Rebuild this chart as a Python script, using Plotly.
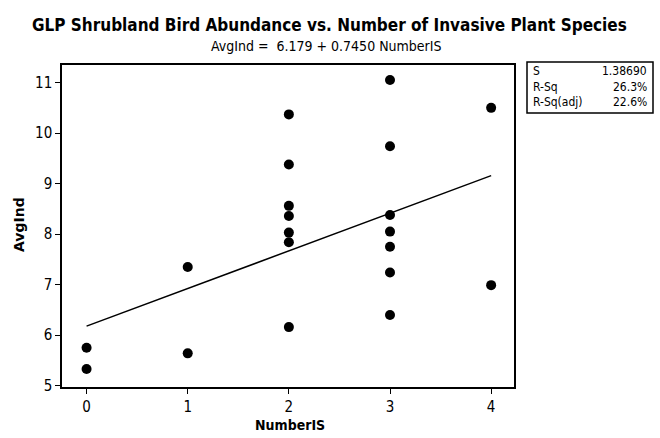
import plotly.graph_objects as go

number_is = [0, 0, 1, 1, 2, 2, 2, 2, 2, 2, 2, 3, 3, 3, 3, 3, 3, 3, 4, 4]
avg_ind = [5.75, 5.33, 7.35, 5.64, 10.37, 9.38, 8.56, 8.36, 8.03, 7.84, 6.16,
           11.05, 9.74, 8.38, 8.05, 7.75, 7.24, 6.40, 10.50, 6.99]
intercept = 6.179
slope = 0.7450
fit_x = [0, 4]
x_ticks = [0, 1, 2, 3, 4]
y_ticks = [5, 6, 7, 8, 9, 10, 11]
stat_names = ["S", "R-Sq", "R-Sq(adj)"]
stat_values = ["1.38690", "26.3%", "22.6%"]

FONT = "DejaVu Sans Condensed"
L, R, T, B = 62, 146, 65, 51
W, H = 660, 438

fig = go.Figure()
fig.add_trace(go.Scatter(
    x=fit_x, y=[intercept + slope * v for v in fit_x], mode="lines",
    line=dict(color="black", width=1.5), showlegend=False, hoverinfo="skip"))
fig.add_trace(go.Scatter(
    x=number_is, y=avg_ind, mode="markers",
    marker=dict(color="black", size=10, line=dict(width=0)), showlegend=False))

fig.update_layout(
    width=W, height=H,
    margin=dict(l=L, r=R, t=T, b=B, autoexpand=False),
    plot_bgcolor="white", paper_bgcolor="white",
    font=dict(family=FONT, color="black", size=14),
    xaxis=dict(range=[-0.243, 4.226], tickvals=x_ticks, ticks="outside", ticklen=5,
               tickcolor="black", showgrid=False, zeroline=False, automargin=False,
               showline=True, linecolor="black", linewidth=1.5, mirror=True,
               tickfont=dict(size=15)),
    yaxis=dict(range=[4.974, 11.348], tickvals=y_ticks, ticks="outside", ticklen=5,
               tickcolor="black", showgrid=False, zeroline=False, automargin=False,
               showline=True, linecolor="black", linewidth=1.5, mirror=True,
               tickfont=dict(size=15)),
)


def px_to_paper(px, py):
    return (px - L) / (W - L - R), (H - B - py) / (H - T - B)


tx, ty = px_to_paper(329, 25)
fig.add_annotation(text="<b>GLP Shrubland Bird Abundance vs. Number of Invasive Plant Species</b>",
                   xref="paper", yref="paper", x=tx, y=ty, showarrow=False,
                   xanchor="center", yanchor="middle", font=dict(size=17))
sx, sy = px_to_paper(326, 46)
fig.add_annotation(text="AvgInd =  6.179 + 0.7450 NumberIS", xref="paper", yref="paper",
                   x=sx, y=sy, showarrow=False, xanchor="center", yanchor="middle",
                   font=dict(size=14))

# axis titles
ax, ay = px_to_paper(290, 425)
fig.add_annotation(text="<b>NumberIS</b>", xref="paper", yref="paper", x=ax, y=ay,
                   showarrow=False, xanchor="center", yanchor="middle", font=dict(size=14))
yx, yy = px_to_paper(19, 225)
fig.add_annotation(text="<b>AvgInd</b>", xref="paper", yref="paper", x=yx, y=yy,
                   showarrow=False, xanchor="center", yanchor="middle", textangle=-90,
                   font=dict(size=14, family="DejaVu Sans"))

# stats box
bx0, by0 = px_to_paper(527, 113)
bx1, by1 = px_to_paper(653, 62)
fig.add_shape(type="rect", xref="paper", yref="paper", x0=bx0, y0=by0, x1=bx1, y1=by1,
              line=dict(color="black", width=1.5), fillcolor="white")
for name, val, py in zip(stat_names, stat_values, [71, 87, 102]):
    lx, ly = px_to_paper(531, py)
    rx, _ = px_to_paper(649, py)
    fig.add_annotation(text=name, xref="paper", yref="paper", x=lx, y=ly, showarrow=False,
                       xanchor="left", yanchor="middle", font=dict(size=12))
    fig.add_annotation(text=val, xref="paper", yref="paper", x=rx, y=ly, showarrow=False,
                       xanchor="right", yanchor="middle", font=dict(size=12))

fig.write_html("out.html", config={"displayModeBar": False},
               post_script="document.body.style.margin='0';")
